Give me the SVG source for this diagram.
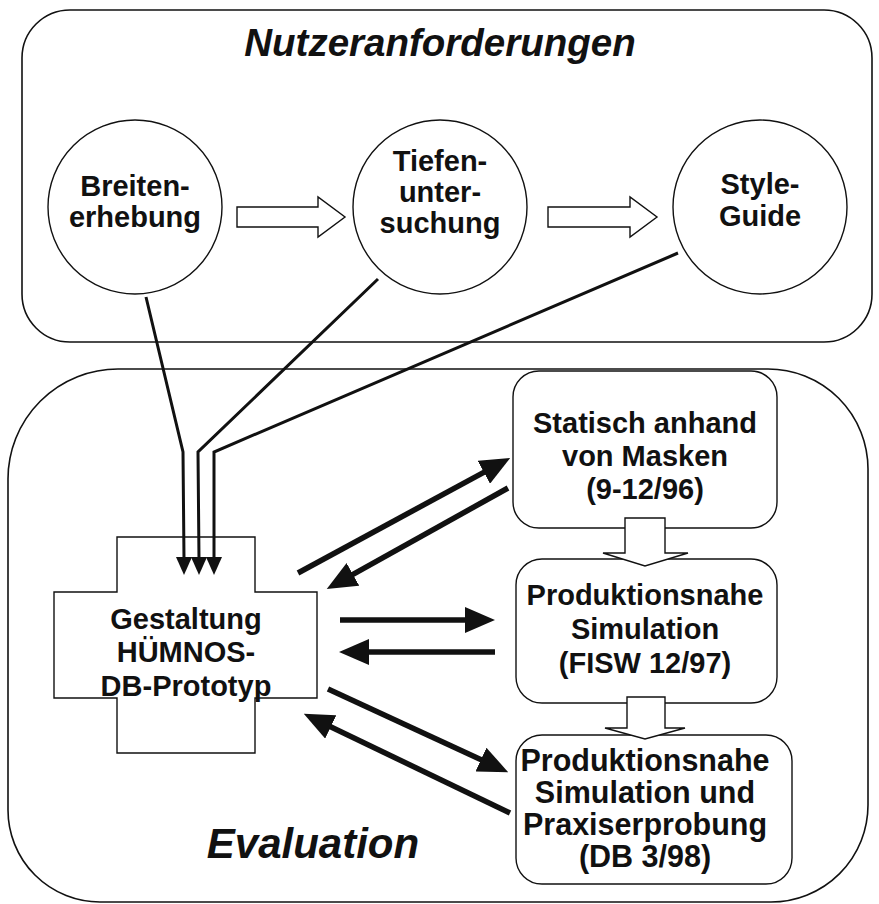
<svg xmlns="http://www.w3.org/2000/svg" width="879" height="904" viewBox="0 0 879 904">
<style>
.frame{fill:none;stroke:#111;stroke-width:1.6}
.node{fill:#fff;stroke:#111;stroke-width:1.4}
.hollow{fill:#fff;stroke:#111;stroke-width:1.4;stroke-linejoin:miter}
.lbl{font-family:"Liberation Sans",Arial,sans-serif;font-weight:bold;font-size:29px;fill:#111;text-anchor:middle}
.big{font-size:30.5px}
.title{font-family:"Liberation Sans",Arial,sans-serif;font-weight:bold;font-style:italic;font-size:42px;fill:#111;text-anchor:middle}
.thin{fill:none;stroke:#111;stroke-width:3;stroke-linejoin:miter}
.thick{fill:none;stroke:#111;stroke-width:5.5}
.head{fill:#111}
</style>
<defs>
<marker id="ah" markerUnits="userSpaceOnUse" markerWidth="30" markerHeight="26" viewBox="0 0 30 26" refX="2" refY="13" orient="auto">
<path d="M0,0 L30,13 L0,26 Z" fill="#111"/>
</marker>
</defs>
<rect width="879" height="904" fill="#fff"/>

<g id="nutzeranforderungen">
<rect class="frame" x="22" y="10" width="850" height="332" rx="48" ry="48"/>
<text class="title" x="440" y="56" style="font-size:38.5px">Nutzeranforderungen</text>
</g>

<g id="evaluation">
<path class="frame" d="M118,369 H768 A100,100 0 0 1 868,469 V805 A97,97 0 0 1 771,902 H100 A92,92 0 0 1 8,810 V479 A110,110 0 0 1 118,369 Z"/>
<text class="title" x="313" y="858">Evaluation</text>
</g>

<g id="breitenerhebung">
<circle class="node" cx="135" cy="207" r="87"/>
<text class="lbl" x="135" y="196">Breiten-</text>
<text class="lbl" x="135" y="227">erhebung</text>
</g>

<g id="tiefenuntersuchung">
<circle class="node" cx="440" cy="207" r="87"/>
<text class="lbl" x="440" y="171">Tiefen-</text>
<text class="lbl" x="440" y="202">unter-</text>
<text class="lbl" x="440" y="233">suchung</text>
</g>

<g id="styleguide">
<circle class="node" cx="760" cy="207" r="87"/>
<text class="lbl" x="760" y="194">Style-</text>
<text class="lbl" x="760" y="226">Guide</text>
</g>

<g id="gestaltung">
<path class="node" d="M117,537 H255 V592 H317 V698 H255 V753 H117 V698 H54 V592 H117 Z"/>
<text class="lbl" x="186" y="629">Gestaltung</text>
<text class="lbl" x="186" y="662">HÜMNOS-</text>
<text class="lbl" x="186" y="696">DB-Prototyp</text>
</g>

<g id="statisch">
<rect class="node" x="513" y="371" width="264" height="157" rx="26"/>
<text class="lbl" x="645" y="433">Statisch anhand</text>
<text class="lbl" x="645" y="466">von Masken</text>
<text class="lbl" x="645" y="499">(9-12/96)</text>
</g>

<g id="simulation">
<rect class="node" x="516" y="559" width="261" height="144" rx="26"/>
<text class="lbl" x="645" y="605">Produktionsnahe</text>
<text class="lbl" x="645" y="639">Simulation</text>
<text class="lbl" x="645" y="673">(FISW 12/97)</text>
</g>

<g id="praxis">
<rect class="node" x="516" y="735" width="276" height="149" rx="26"/>
<text class="lbl big" x="645" y="771">Produktionsnahe</text>
<text class="lbl big" x="645" y="803">Simulation und</text>
<text class="lbl big" x="645" y="835">Praxiserprobung</text>
<text class="lbl big" x="645" y="867">(DB 3/98)</text>
</g>

<g id="connectors">
<path class="hollow" d="M237,207 H318 V197 L345,217 L318,237 V227 H237 Z"/>
<path class="hollow" d="M548,207 H630 V197 L657,217 L630,237 V227 H548 Z"/>
<path class="hollow" d="M625,518 V553 H603 L645,566 L688,553 H665 V518 Z"/>
<path class="hollow" d="M627,697 V728 H605 L645,739 L685,728 H665 V697 Z"/>

<path class="thin" d="M146,297 L183,452 L184,559"/>
<path class="thin" d="M378,279 L198,452 L199,559"/>
<path class="thin" d="M678,253 L214,452 L214,559"/>
<path class="head" d="M176,557 L192,557 L184,575 Z"/>
<path class="head" d="M191,557 L207,557 L199,575 Z"/>
<path class="head" d="M206,557 L222,557 L214,575 Z"/>

<line class="thick" x1="298" y1="573" x2="485.6" y2="471.3" marker-end="url(#ah)"/>
<line class="thick" x1="508" y1="488" x2="351.2" y2="575.4" marker-end="url(#ah)"/>
<line class="thick" x1="340" y1="620" x2="467" y2="620" marker-end="url(#ah)"/>
<line class="thick" x1="495" y1="652" x2="367" y2="652" marker-end="url(#ah)"/>
<line class="thick" x1="328" y1="689" x2="482.8" y2="760.4" marker-end="url(#ah)"/>
<line class="thick" x1="510" y1="813" x2="329" y2="726" marker-end="url(#ah)"/>
</g>
</svg>
